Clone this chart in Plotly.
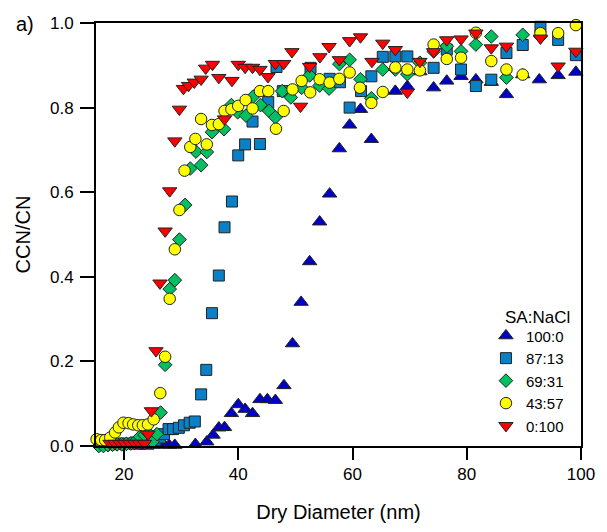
import plotly.graph_objects as go

# ---- data ----
series_names = ["100:0", "87:13", "69:31", "43:57", "0:100"]

d_100_0 = [22.5, 24.0, 25.2, 26.1, 27.0, 27.9, 28.9, 32.5, 34.5, 35.6, 36.6, 37.6, 38.8, 40.0,
           41.2, 42.5, 43.8, 45.1, 46.5, 48.0, 49.5, 51.0, 52.5, 54.25, 56.0, 57.7, 59.5, 61.4,
           63.3, 67.5, 69.6, 71.8, 74.2, 76.5, 79.0, 81.6, 84.3, 86.95, 89.8, 92.7, 96.0, 99.1]
v_100_0 = [0.0, 0.0, 0.002, 0.003, 0.003, 0.002, 0.002, 0.004, 0.01, 0.026, 0.043, 0.044, 0.077,
           0.098, 0.087, 0.077, 0.11, 0.11, 0.108, 0.143, 0.242, 0.34, 0.436, 0.53, 0.596, 0.703,
           0.759, 0.796, 0.725, 0.839, 0.85, 0.885, 0.847, 0.863, 0.874, 0.866, 0.86, 0.831,
           0.878, 0.866, 0.876, 0.884]

d_87_13 = [18.0, 20.0, 22.0, 24.0, 25.5, 26.3, 27.0, 27.8, 28.6, 29.6, 30.5, 31.5, 32.4, 33.5,
           34.4, 35.4, 36.6, 37.6, 38.9, 40.0, 41.2, 42.5, 43.8, 45.25, 46.7, 47.8, 52.65, 56.0,
           57.8, 59.5, 61.5, 63.3, 65.3, 67.5, 69.6, 74.2, 76.5, 79.0, 81.6, 84.3, 86.95, 89.8,
           92.9, 96.0, 99.1]
v_87_13 = [0.004, 0.006, 0.008, 0.01, 0.014, 0.02, 0.028, 0.04, 0.04, 0.043, 0.049, 0.055, 0.058,
           0.122, 0.18, 0.314, 0.403, 0.517, 0.578, 0.687, 0.713, 0.767, 0.714, 0.813, 0.896,
           0.839, 0.894, 0.868, 0.86, 0.80, 0.839, 0.874, 0.92, 0.921, 0.921, 0.894, 0.937, 0.89,
           0.851, 0.866, 0.929, 0.948, 0.991, 0.96, 0.924]

d_69_31 = [15.6, 16.4, 17.2, 18.0, 18.8, 19.6, 20.4, 21.2, 22.0, 22.8, 23.6, 24.3, 25.0, 25.75,
           26.4, 27.2, 28.0, 28.9, 29.7, 30.7, 31.6, 32.6, 33.5, 34.5, 35.4, 37.5, 38.8, 39.9,
           41.35, 42.6, 43.9, 45.4, 46.5, 47.7, 49.2, 51.1, 52.5, 54.25, 55.9, 57.7, 59.5, 61.4,
           63.3, 65.3, 67.5, 69.6, 71.8, 74.2, 76.5, 79.0, 81.6, 84.3, 86.95, 89.8, 92.9]
v_69_31 = [0.0, 0.0, 0.002, 0.003, 0.004, 0.004, 0.005, 0.006, 0.01, 0.022, 0.026, 0.03, 0.01,
           0.028, 0.079, 0.192, 0.371, 0.392, 0.488, 0.570, 0.656, 0.696, 0.664, 0.695, 0.742,
           0.749, 0.806, 0.789, 0.781, 0.826, 0.806, 0.792, 0.777, 0.839, 0.824, 0.847, 0.876,
           0.852, 0.845, 0.903, 0.913, 0.867, 0.822, 0.89, 0.89, 0.879, 0.906, 0.933, 0.945,
           0.933, 0.949, 0.968, 0.871, 0.972, 0.968]

d_43_57 = [15.2, 16.0, 16.7, 17.6, 18.45, 19.1, 19.9, 20.8, 21.6, 22.5, 23.3, 24.2, 25.2, 26.35,
           27.2, 28.0, 28.9, 29.7, 30.6, 31.6, 32.5, 33.5, 34.5, 35.4, 36.6, 37.6, 38.8, 40.0,
           41.3, 42.5, 43.8, 45.25, 46.6, 47.95, 49.5, 51.1, 52.6, 54.25, 56.0, 57.7, 59.5, 61.3,
           63.3, 65.3, 67.5, 69.6, 71.8, 74.2, 76.5, 79.0, 81.6, 84.3, 86.95, 89.8, 92.9, 96.0,
           99.1]
v_43_57 = [0.016, 0.014, 0.014, 0.02, 0.032, 0.044, 0.055, 0.054, 0.051, 0.049, 0.049, 0.051,
           0.063, 0.125, 0.211, 0.348, 0.465, 0.558, 0.651, 0.707, 0.726, 0.773, 0.713, 0.759,
           0.761, 0.792, 0.796, 0.804, 0.818, 0.798, 0.839, 0.839, 0.75, 0.792, 0.843, 0.863,
           0.836, 0.867, 0.859, 0.868, 0.883, 0.847, 0.811, 0.837, 0.895, 0.89, 0.888, 0.949,
           0.915, 0.918, 0.977, 0.91, 0.89, 0.878, 0.976, 0.976, 0.995]

d_0_100 = [17.55, 18.4, 19.3, 20.1, 21.0, 21.85, 22.7, 23.6, 24.2, 24.8, 25.6, 26.3, 27.2, 28.0,
           28.9, 29.7, 30.4, 31.3, 32.3, 33.5, 34.3, 35.5, 36.6, 37.6, 38.9, 40.0, 41.2, 42.5,
           43.8, 45.2, 46.5, 47.95, 49.4, 50.9, 52.5, 54.3, 55.9, 57.7, 59.5, 61.4, 63.4, 65.3,
           67.5, 69.6, 71.8, 74.2, 76.5, 79.0, 81.6, 84.3, 86.95, 92.9, 96.0, 99.1]
v_0_100 = [0.006, 0.006, 0.006, 0.006, 0.006, 0.006, 0.006, 0.006, 0.028, 0.083, 0.225, 0.385,
           0.508, 0.603, 0.721, 0.796, 0.845, 0.852, 0.86, 0.867, 0.893, 0.902, 0.871, 0.773,
           0.864, 0.902, 0.895, 0.895, 0.89, 0.873, 0.904, 0.904, 0.932, 0.803, 0.897, 0.92,
           0.944, 0.913, 0.958, 0.967, 0.909, 0.952, 0.937, 0.836, 0.909, 0.932, 0.96, 0.962,
           0.976, 0.941, 0.945, 0.964, 0.898, 0.933]

x_ticks = [20, 40, 60, 80, 100]
y_ticks = [0.0, 0.2, 0.4, 0.6, 0.8, 1.0]

# ---- styles ----
FONT = "Arial, Liberation Sans, sans-serif"
styles = [
    dict(symbol="triangle-up", color="#0000C8", size=12.5),
    dict(symbol="square", color="#0A80C8", size=11),
    dict(symbol="diamond", color="#00C060", size=10.5),
    dict(symbol="circle", color="#FFFF00", size=11.5),
    dict(symbol="triangle-down", color="#FF0000", size=12.5),
]
xs = [d_100_0, d_87_13, d_69_31, d_43_57, d_0_100]
ys = [v_100_0, v_87_13, v_69_31, v_43_57, v_0_100]

fig = go.Figure()
for name, x, y, st in zip(series_names, xs, ys, styles):
    fig.add_trace(go.Scatter(
        x=x, y=y, mode="markers", name=name, cliponaxis=False,
        marker=dict(symbol=st["symbol"], color=st["color"], size=st["size"],
                    line=dict(color="#222222", width=1)),
    ))

fig.update_layout(
    width=607, height=532,
    margin=dict(l=96, r=18, t=23, b=81),
    paper_bgcolor="white", plot_bgcolor="white",
    font=dict(family=FONT, color="black", size=17),
    showlegend=True,
    legend=dict(x=0.804, y=0.2993, xanchor="left", yanchor="top",
                bgcolor="rgba(0,0,0,0)", borderwidth=0,
                font=dict(family=FONT, size=15, color="black")),
    annotations=[
        dict(text="a)", xref="paper", yref="paper", x=-0.17, y=0.998,
             xanchor="left", yanchor="middle", showarrow=False,
             font=dict(family=FONT, size=20, color="black")),
        dict(text="SA:NaCl", xref="paper", yref="paper", x=0.84, y=0.3044,
             xanchor="left", yanchor="middle", showarrow=False,
             font=dict(family=FONT, size=17, color="black")),
    ],
)
fig.update_xaxes(
    range=[15.1, 100], tickvals=x_ticks, ticktext=[str(t) for t in x_ticks],
    showgrid=False, zeroline=False,
    showline=True, linecolor="black", linewidth=2, mirror=True,
    ticks="outside", ticklen=12, tickwidth=2, tickcolor="black",
    tickfont=dict(family=FONT, size=17, color="black"),
    title=dict(text="Dry Diameter (nm)", font=dict(family=FONT, size=20, color="black"), standoff=22),
)
fig.update_yaxes(
    range=[0, 1.0], tickvals=y_ticks, ticktext=[f"{t:.1f}" for t in y_ticks],
    showgrid=False, zeroline=False,
    showline=True, linecolor="black", linewidth=2, mirror=True,
    ticks="outside", ticklen=14, tickwidth=2, tickcolor="black", ticklabelstandoff=3,
    tickfont=dict(family=FONT, size=17, color="black"),
    title=dict(text="CCN/CN", font=dict(family=FONT, size=20, color="black"), standoff=14),
)

# remove the default 8px page margin so the figure sits at the window origin
fig.write_html("out.html",
               config={"displayModeBar": False},
               post_script="document.body.style.margin='0';document.body.style.overflow='hidden';")
